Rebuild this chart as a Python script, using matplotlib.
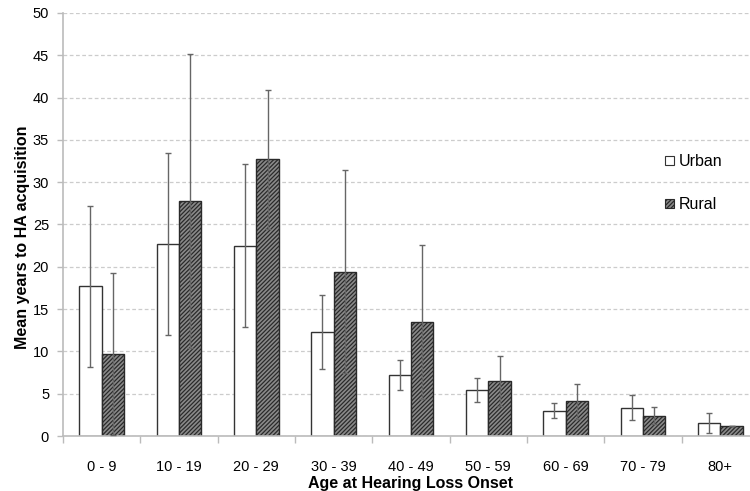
import matplotlib
matplotlib.use("Agg")
import matplotlib.pyplot as plt
import numpy as np
from matplotlib.patches import Patch

plt.rcParams['font.family'] = ['Liberation Sans', 'DejaVu Sans']
plt.rcParams['hatch.linewidth'] = 0.9

categories = ["0 - 9", "10 - 19", "20 - 29", "30 - 39", "40 - 49", "50 - 59", "60 - 69", "70 - 79", "80+"]
urban_mean = [17.7, 22.7, 22.5, 12.3, 7.2, 5.4, 3.0, 3.35, 1.55]
urban_err = [9.5, 10.8, 9.6, 4.4, 1.8, 1.4, 0.9, 1.5, 1.2]
rural_mean = [9.7, 27.8, 32.7, 19.4, 13.5, 6.5, 4.1, 2.4, 1.2]
rural_err = [9.6, 17.4, 8.2, 12.0, 9.1, 3.0, 2.1, 1.0, 0.0]
yticks = list(range(0, 51, 5))

fig = plt.figure(figsize=(7.5, 4.91), dpi=100)
ax = fig.add_axes([63/750, 1-436/491, (759-63)/750, (436-13)/491])

x = np.arange(len(categories))
w = 0.29
ax.bar(x - w/2, urban_mean, w, color='white', edgecolor='#333333', linewidth=1.0, zorder=2)
ax.bar(x + w/2, rural_mean, w, color='#8a8a8a', edgecolor='#2a2a2a', hatch='////////', linewidth=1.0, zorder=2)
ax.errorbar(x - w/2, urban_mean, yerr=urban_err, fmt='none', ecolor='#666666', elinewidth=1.0, capsize=2.5, capthick=1.0, zorder=3)
ax.errorbar(x + w/2, rural_mean, yerr=rural_err, fmt='none', ecolor='#666666', elinewidth=1.0, capsize=2.5, capthick=1.0, zorder=3)

ax.set_xlim(-0.5, len(categories) - 0.5)
ax.set_ylim(0, 50)
ax.set_yticks(yticks)
ax.set_xticks(x)
ax.set_xticklabels(categories)
ax.set_xticks(np.arange(-0.5, len(categories), 1.0), minor=True)
ax.tick_params(axis='x', which='major', length=0, pad=17, labelsize=10.5)
ax.tick_params(axis='x', which='minor', length=5, color='#bbbbbb', width=1)
ax.tick_params(axis='y', length=4, color='#bbbbbb', width=1, labelsize=10.5, pad=6)

ax.grid(axis='y', linestyle=(0, (3, 2)), color='#cccccc', linewidth=0.9, zorder=0)
ax.set_axisbelow(True)
for s in ['top', 'right']:
    ax.spines[s].set_visible(False)
for s in ['left', 'bottom']:
    ax.spines[s].set_color('#bbbbbb')
    ax.spines[s].set_linewidth(1.2)

ax.set_xlabel("Age at Hearing Loss Onset", fontsize=11.5, fontweight='bold', labelpad=2)
ax.set_ylabel("Mean years to HA acquisition", fontsize=11.5, fontweight='bold')
ax.yaxis.set_label_coords(-0.047, 0.47)

handles = [Patch(facecolor='white', edgecolor='#333333', linewidth=0.8),
           Patch(facecolor='#8a8a8a', edgecolor='#2a2a2a', hatch='////////', linewidth=0.8)]
leg = ax.legend(handles, ["Urban", "Rural"], loc='upper left', bbox_to_anchor=(0.845, 0.70),
                frameon=False, fontsize=11.5, handlelength=0.55, handleheight=0.55,
                handletextpad=0.25, labelspacing=1.75)

fig.savefig("out.png", dpi=100)
